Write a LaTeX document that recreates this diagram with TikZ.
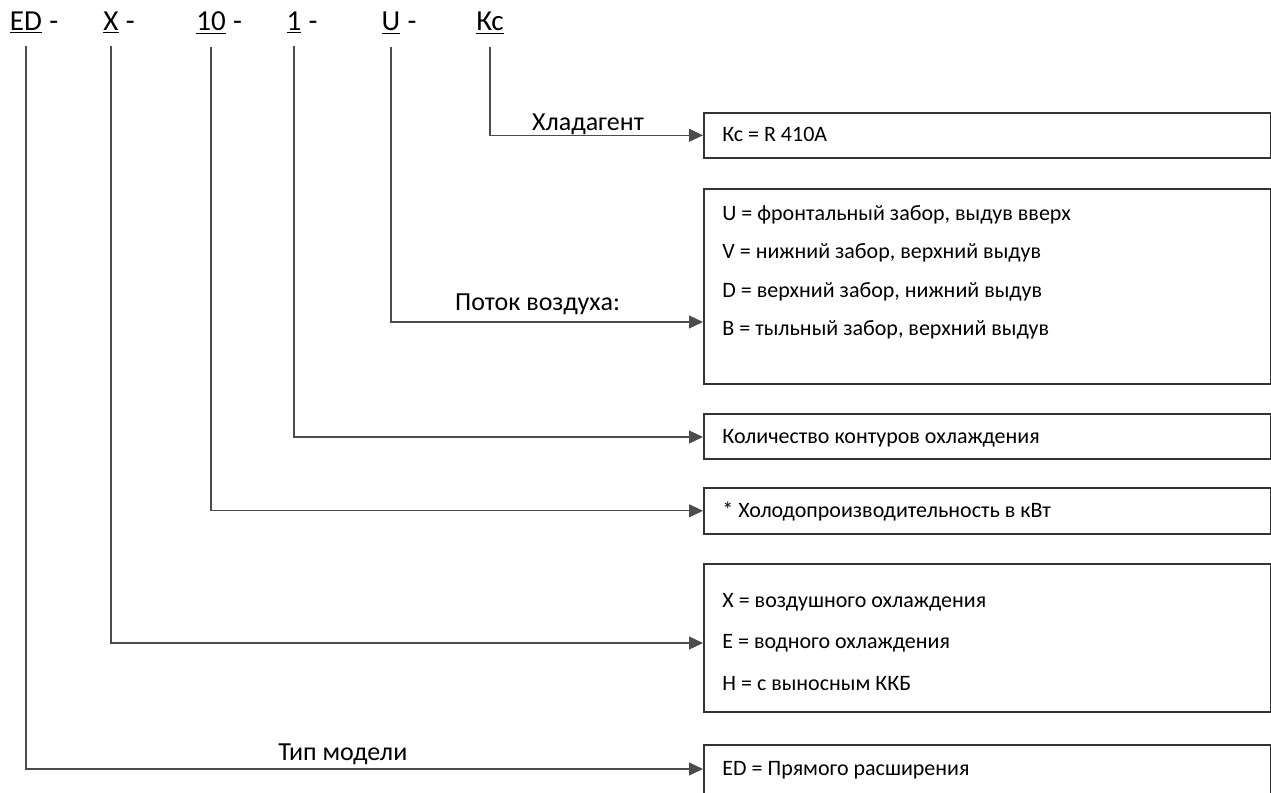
\documentclass[tikz,border=0pt]{standalone}
\usepackage{fontspec}
\setmainfont{Carlito}
\usetikzlibrary{arrows.meta}

\begin{document}
\begin{tikzpicture}[x=0.5pt, y=-0.5pt,
    code/.style={font=\fontsize{14.5}{17}\selectfont, inner xsep=0pt, inner ysep=6pt, anchor=base},
    hyph/.style={label={[font=\fontsize{14.5}{17}\selectfont, inner sep=0pt, anchor=base west]base east:\ -}},
    box/.style={draw=black!80, line width=0.8pt, anchor=north west, minimum width=283.5pt, inner sep=0pt},
    item/.style={font=\fontsize{11}{13}\selectfont, anchor=base west, inner sep=0pt},
    lab/.style={font=\fontsize{13}{15}\selectfont, anchor=base, inner sep=0pt},
    link/.style={draw=black!70, line width=0.6pt, -{Triangle[length=7pt, width=6.5pt]}}]
    \clip (0,0) rectangle (1271,793);

    % обозначение модели
    \node[code, hyph] (model) at (26,30) {\underline{ED}};
    \node[code, hyph] (cond) at (111,30) {\underline{X}};
    \node[code, hyph] (capac) at (211,30) {\underline{10}};
    \node[code, hyph] (circ) at (294,30) {\underline{1}};
    \node[code, hyph] (flow) at (391,30) {\underline{U}};
    \node[code] (refr) at (490,30) {\underline{Кс}};

    % рамки справа
    \node[box, minimum height=22.5pt] (refrbox) at (703,112) {};
    \node[box, minimum height=97.5pt] (flowbox) at (703,188) {};
    \node[box, minimum height=22.5pt] (circbox) at (703,413) {};
    \node[box, minimum height=23pt] (capacbox) at (703,487) {};
    \node[box, minimum height=74pt] (condbox) at (703,563) {};
    \node[box, minimum height=30pt] (modelbox) at (703,744) {};

    \node[item] (refr1) at (722,141.5) {Кс = R 410A};
    \foreach \t [count=\i] in {{U = фронтальный забор, выдув вверх},
                               {V = нижний забор, верхний выдув},
                               {D = верхний забор, нижний выдув},
                               {B = тыльный забор, верхний выдув}}
        \node[item] (flow\i) at (722,{220+38.5*(\i-1)}) {\t};
    \node[item] (circ1) at (722,443) {Количество контуров охлаждения};
    \node[item] (capac1) at (722,517) {* Холодопроизводительность в кВт};
    \foreach \t [count=\i] in {{X = воздушного охлаждения},
                               {E = водного охлаждения},
                               {H = с выносным ККБ}}
        \node[item] (cond\i) at (722,{607+41.5*(\i-1)}) {\t};
    \node[item] (model1) at (722,775) {ED = Прямого расширения};

    % выноски
    \draw[link] (refr.south) |- node[lab, pos=0.73, yshift=2.5pt] {Хладагент} (refrbox.west);
    \draw[link] (flow.south) |- node[lab, pos=0.735, yshift=6pt] {Поток воздуха:} (flowbox.west |- 0,322);
    \draw[link] (circ.south) |- (circbox.west |- 0,437);
    \draw[link] (capac.south) |- (capacbox.west);
    \draw[link] (cond.south) |- (condbox.west |- 0,643);
    \draw[link] (model.south) |- node[lab, pos=0.734, yshift=4.5pt] {Тип модели} (modelbox.west |- 0,769);
\end{tikzpicture}
\end{document}
